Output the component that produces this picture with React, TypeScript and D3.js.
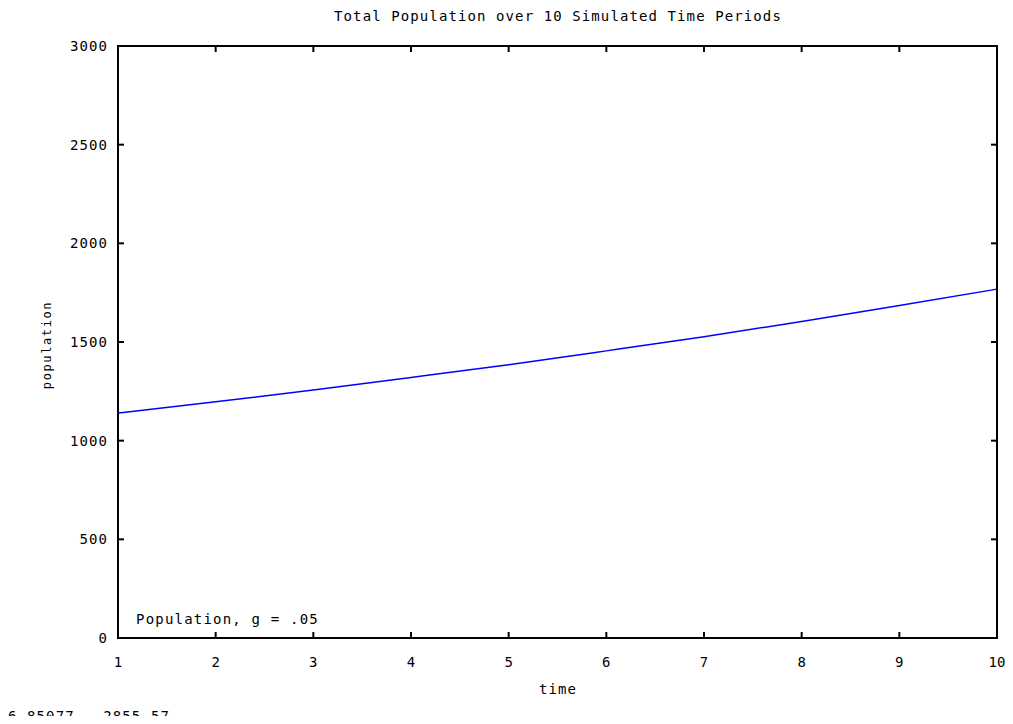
import React from "react";
import * as d3 from "d3";

const times = [1, 2, 3, 4, 5, 6, 7, 8, 9, 10];
const population = [1140, 1197, 1257, 1320, 1385, 1455, 1527, 1604, 1685, 1768];
const yTicks = [0, 500, 1000, 1500, 2000, 2500, 3000];
const xTicks = [1, 2, 3, 4, 5, 6, 7, 8, 9, 10];
const title = "Total Population over 10 Simulated Time Periods";
const legendLabel = "Population, g = .05";
const coordText = "6.85077 , 2855.57";

const W = 1013, H = 724;
const M = { left: 118, right: 997, top: 46, bottom: 638 };
const font = "'DejaVu Sans Mono', monospace";
const fs = 14;
const ls = 1.1;

export default function App() {
  const x = d3.scaleLinear().domain([1, 10]).range([M.left, M.right]);
  const y = d3.scaleLinear().domain([0, 3000]).range([M.bottom, M.top]);
  const line = d3.line<number>().x((_, i) => x(times[i])).y((d) => y(d)).curve(d3.curveMonotoneX);
  const tl = 6;
  return (
    <svg width={W} height={H} style={{ position: "absolute", left: 0, top: 0, background: "#fff" }}>
      <defs>
        <clipPath id="cut"><rect x={0} y={0} width={W} height={716} /></clipPath>
      </defs>
      <rect width={W} height={H} fill="#fff" />
      <text x={558} y={21} textAnchor="middle" fontFamily={font} fontSize={fs} letterSpacing={ls} fill="#000">{title}</text>
      {yTicks.map((t) => (
        <g key={"y" + t}>
          <line x1={M.left} x2={M.left + tl} y1={y(t)} y2={y(t)} stroke="#000" strokeWidth={2} />
          <line x1={M.right} x2={M.right - tl} y1={y(t)} y2={y(t)} stroke="#000" strokeWidth={2} />
          <text x={108} y={y(t) + 5} textAnchor="end" fontFamily={font} fontSize={fs} letterSpacing={ls} fill="#000">{t}</text>
        </g>
      ))}
      {xTicks.map((t) => (
        <g key={"x" + t}>
          <line x1={x(t)} x2={x(t)} y1={M.bottom} y2={M.bottom - tl} stroke="#000" strokeWidth={2} />
          <line x1={x(t)} x2={x(t)} y1={M.top} y2={M.top + tl} stroke="#000" strokeWidth={2} />
          <text x={x(t)} y={667} textAnchor="middle" fontFamily={font} fontSize={fs} fill="#000">{t}</text>
        </g>
      ))}
      <path d={line(population) || ""} fill="none" stroke="#0000ff" strokeWidth={1.5} />
      <rect x={M.left} y={M.top} width={M.right - M.left} height={M.bottom - M.top} fill="none" stroke="#000" strokeWidth={2} />
      <text x={136} y={624} fontFamily={font} fontSize={fs} letterSpacing={1.2} fill="#000">{legendLabel}</text>
      <text x={558} y={694} textAnchor="middle" fontFamily={font} fontSize={fs} letterSpacing={ls} fill="#000">time</text>
      <text transform={`translate(51,345) rotate(-90)`} textAnchor="middle" fontFamily={font} fontSize={12} letterSpacing={1.6} fill="#000">population</text>
      <g clipPath="url(#cut)">
        <text x={8} y={721} fontFamily={font} fontSize={fs} letterSpacing={ls} fill="#000" style={{ whiteSpace: "pre" }}>{coordText}</text>
      </g>
    </svg>
  );
}
